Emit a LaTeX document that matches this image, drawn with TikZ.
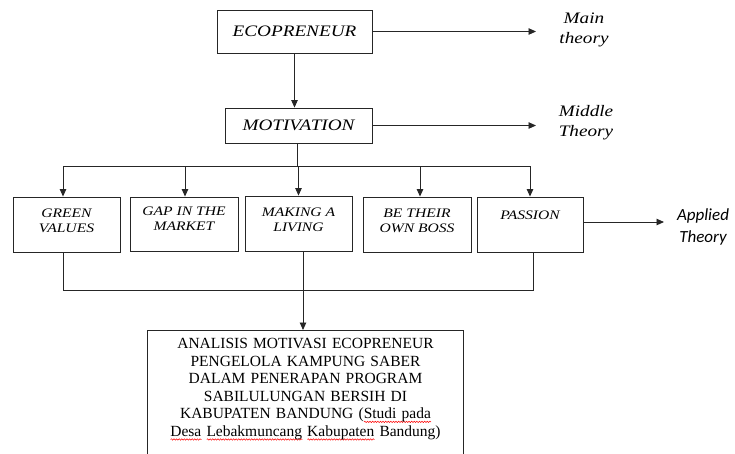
\documentclass[tikz,border=0pt]{standalone}
\usepackage{fontspec}
\setmainfont{Liberation Serif}
\newfontfamily\wideserif[FakeStretch=1.2]{Liberation Serif}
\newfontfamily\calib{Carlito}
\usetikzlibrary{arrows.meta,calc,decorations.pathmorphing}
\newdimen\wavewd
\newcommand\redwave[1]{\leavevmode\begingroup\setbox0\hbox{#1}\wavewd=\wd0\rlap{\tikz[baseline=0pt]{\draw[red,line width=0.5pt,decorate,decoration={snake,amplitude=0.7pt,segment length=2.6pt}] (0pt,-3pt) -- (\wavewd,-3pt);}}\box0\endgroup}
\tikzset{
  line/.style={draw=black!85, line width=0.9pt},
  arr/.style={line, -{Triangle[length=7.5pt,width=6.5pt]}},
  bigbox/.style={line, minimum height=#1, inner sep=0pt, font=\fontsize{16}{19}\selectfont\wideserif\itshape},
  smallbox/.style={line, minimum height=55pt, inner sep=0pt},
  inlabel/.style={anchor=north, inner sep=0pt, yshift=-12pt, align=center, font=\fontsize{13}{15}\selectfont\wideserif\itshape},
  sidelabel/.style={align=center, inner sep=0pt, font=\fontsize{16}{20}\selectfont\wideserif\itshape},
}
\begin{document}
\begin{tikzpicture}[x=1pt,y=-1pt]
\useasboundingbox (0,0) rectangle (735,453);
\clip (0,0) rectangle (735,453);
% top boxes
\node[bigbox=43pt, minimum width=155pt] (eco) at (294.5,31.5) {ECOPRENEUR};
\node[bigbox=35pt, minimum width=147pt] (mot) at (298.5,125.5) {MOTIVATION};
% side labels
\node[sidelabel] (main) at (584,30) {Main\\theory};
\node[sidelabel] (middle) at (586,123) {Middle\\Theory};
\node[align=center, inner sep=0pt, font=\fontsize{17}{22}\selectfont\calib\itshape] (applied) at (703,227) {Applied\\Theory};
\coordinate (mainend) at (536,30);
\coordinate (middleend) at (536,125);
\coordinate (appliedend) at (664,222);
% five boxes
\node[smallbox, minimum width=107pt, label={[inlabel]north:GREEN\\VALUES}] (green) at (66.5,224.5) {};
\node[smallbox, minimum width=108pt, minimum height=54pt, label={[inlabel, yshift=2pt]north:GAP IN THE\\MARKET}] (gap) at (184,224) {};
\node[smallbox, minimum width=107pt, label={[inlabel]north:MAKING A\\LIVING}] (making) at (298.5,223.5) {};
\node[smallbox, minimum width=108pt, label={[inlabel]north:BE THEIR\\OWN BOSS}] (boss) at (417,224.5) {};
\node[smallbox, minimum width=106pt, label={[inlabel, yshift=-2pt]north:PASSION}] (passion) at (530,224.5) {};
% bottom box
\node[anchor=north, text width=305pt, inner xsep=5pt, inner ysep=8pt, align=center,
      font=\fontsize{15.5}{17.6}\selectfont] (analisis) at (305.5,330)
  {ANALISIS MOTIVASI ECOPRENEUR\\
   PENGELOLA KAMPUNG SABER\\
   DALAM PENERAPAN PROGRAM\\
   SABILULUNGAN BERSIH DI\\
   KABUPATEN BANDUNG (\redwave{Studi pada}\\
   \redwave{Desa} \redwave{Lebakmuncang} \redwave{Kabupaten} Bandung)};
\coordinate (bottomedge) at (0,460);
\draw[line] (analisis.north west |- bottomedge) -- (analisis.north west) -- (analisis.north east) -- (analisis.north east |- bottomedge);
% connectors
\draw[arr] (eco.south) -- (eco.south |- mot.north);
\draw[arr] (eco.east) -- (eco.east -| mainend);
\draw[arr] (mot.east) -- (mot.east -| middleend);
\draw[arr] (passion.east |- appliedend) -- (appliedend);
\coordinate (hub) at (297,166);
\draw[line] (mot.south -| hub) -- (hub);
\coordinate (gtop) at ($(green.north)+(-3.5,0)$);
\coordinate (gbot) at ($(green.south)+(-3.5,0)$);
\coordinate (ptop) at ($(passion.north)+(0,0)$);
\coordinate (pbot) at ($(passion.south)+(3,0)$);
\coordinate (atop) at ($(gap.north)+(1,0)$);
\coordinate (btop) at ($(boss.north)+(3,0)$);
\coordinate (mkdown) at ($(making.south)+(4.5,0)$);
\coordinate (join) at (303,290);
\draw[line] (hub -| gtop) -- (hub -| ptop);
\draw[arr] (hub -| gtop) -- (gtop);
\draw[arr] (hub -| atop) -- (atop);
\draw[arr] (hub -| making.north) -- (making.north);
\draw[arr] (hub -| btop) -- (btop);
\draw[arr] (hub -| ptop) -- (ptop);
\draw[line] (gbot) -- (gbot |- join) -- (pbot |- join) -- (pbot);
\draw[arr] (mkdown) -- (mkdown |- analisis.north);
\end{tikzpicture}
\end{document}
